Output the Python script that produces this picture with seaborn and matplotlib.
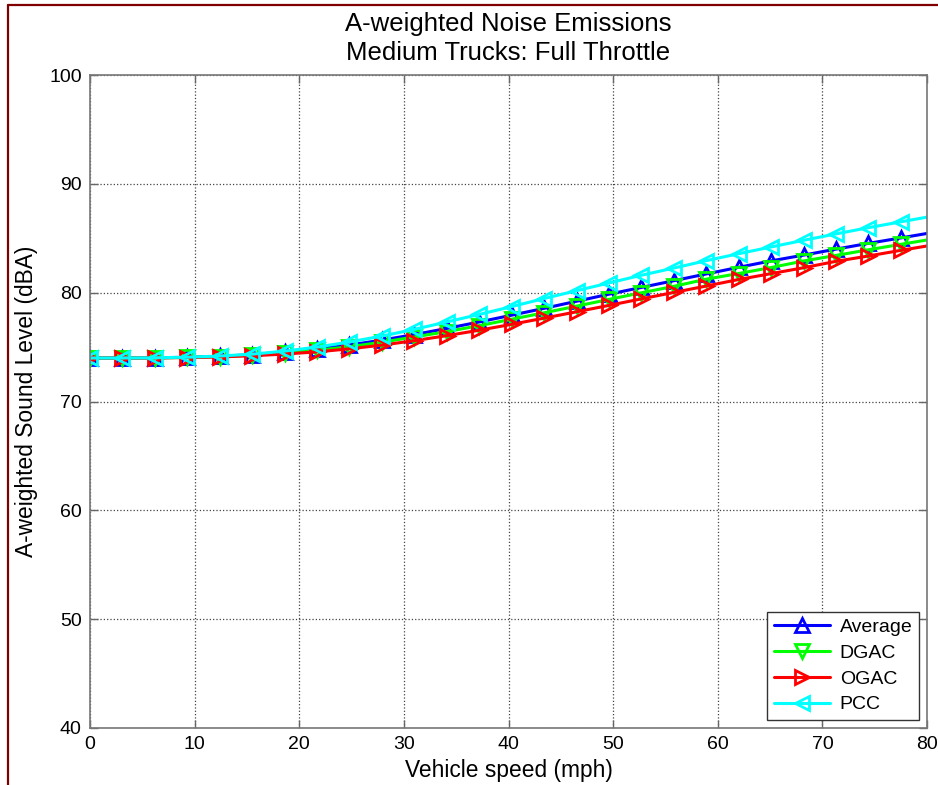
import matplotlib.pyplot as plt
from matplotlib.lines import Line2D
import seaborn as sns
import pandas as pd

sns.set_theme(style="ticks")
plt.rcParams["font.family"] = ["Liberation Sans", "DejaVu Sans"]
plt.rcParams["text.color"] = "black"
plt.rcParams["axes.labelcolor"] = "black"
plt.rcParams["xtick.labelcolor"] = "black"
plt.rcParams["ytick.labelcolor"] = "black"

# speed steps used by the model (mph), last point only carries the line to the axis edge
speed = [0, 3.1, 6.2, 9.3, 12.4, 15.5, 18.6, 21.7, 24.8, 27.9, 31.0, 34.1, 37.2,
         40.3, 43.4, 46.5, 49.6, 52.7, 55.8, 58.9, 62.0, 65.1, 68.2, 71.3, 74.4,
         77.5, 80]

average = [74.00, 74.00, 74.02, 74.06, 74.15, 74.30, 74.53, 74.82, 75.19, 75.64,
           76.15, 76.71, 77.31, 77.93, 78.56, 79.21, 79.86, 80.48, 81.10, 81.72,
           82.33, 82.92, 83.45, 84.00, 84.53, 85.03, 85.44]
dgac = [74.00, 74.00, 74.01, 74.05, 74.13, 74.26, 74.45, 74.71, 75.03, 75.45,
        75.93, 76.42, 76.97, 77.56, 78.15, 78.76, 79.38, 79.99, 80.58, 81.24,
        81.76, 82.31, 82.91, 83.42, 83.94, 84.44, 84.84]
ogac = [74.00, 74.00, 74.01, 74.04, 74.10, 74.20, 74.36, 74.56, 74.84, 75.18,
        75.59, 76.05, 76.55, 77.09, 77.66, 78.24, 78.83, 79.43, 80.02, 80.61,
        81.21, 81.75, 82.29, 82.88, 83.37, 83.89, 84.29]
pcc = [74.00, 74.00, 74.02, 74.07, 74.18, 74.35, 74.63, 75.00, 75.47, 76.01,
       76.63, 77.31, 78.00, 78.72, 79.46, 80.18, 80.89, 81.60, 82.26, 82.94,
       83.58, 84.20, 84.81, 85.40, 85.97, 86.51, 86.94]

series = {"Average": average, "DGAC": dgac, "OGAC": ogac, "PCC": pcc}
colors = {"Average": "#0000ff", "DGAC": "#00ff00", "OGAC": "#ff0000", "PCC": "#00ffff"}
markers = {"Average": "^", "DGAC": "v", "OGAC": ">", "PCC": "<"}

fig = plt.figure(figsize=(9.38, 7.85), dpi=100)
ax = fig.add_axes([90 / 938, 57 / 785, 837 / 938, 653 / 785])

for name, vals in series.items():
    df = pd.DataFrame({"speed": speed, "level": vals})
    sns.lineplot(
        data=df, x="speed", y="level", ax=ax, label=name,
        color=colors[name], linewidth=2.2,
        marker=markers[name], markersize=9.5, markevery=slice(0, len(speed) - 1),
        markerfacecolor="none", markeredgecolor=colors[name], markeredgewidth=2,
    )

ax.set_xlim(0, 80)
ax.set_ylim(40, 100)
ax.set_xticks(range(0, 81, 10))
ax.set_yticks(range(40, 101, 10))
ax.grid(True, linestyle=":", color="#444444", linewidth=0.9)
ax.tick_params(direction="in", top=True, right=True, length=6, width=1,
               color="#666666", labelsize=14, pad=6)
for sp in ax.spines.values():
    sp.set_color("#777777")
    sp.set_linewidth(1.2)

ax.set_xlabel("Vehicle speed (mph)", fontsize=16.4, labelpad=4)
ax.set_ylabel("A-weighted Sound Level (dBA)", fontsize=16.4, labelpad=8)
ax.set_title("A-weighted Noise Emissions\nMedium Trucks: Full Throttle",
             fontsize=18.5, pad=11, linespacing=1.25)

leg = ax.legend(loc="lower right", fontsize=14, frameon=True, fancybox=False,
                framealpha=1, edgecolor="#333333", handlelength=2.9,
                labelspacing=0.42, borderaxespad=0.4, borderpad=0.35,
                handletextpad=0.5)
leg.get_frame().set_linewidth(1)

# dark red frame on top and left edge of the figure
fig.add_artist(Line2D([8 / 938, 1], [1 - 5 / 785, 1 - 5 / 785],
                      color="#800000", linewidth=1.6, transform=fig.transFigure))
fig.add_artist(Line2D([8 / 938, 8 / 938], [0, 1 - 5 / 785],
                      color="#800000", linewidth=1.6, transform=fig.transFigure))

fig.savefig("out.png", dpi=100)
